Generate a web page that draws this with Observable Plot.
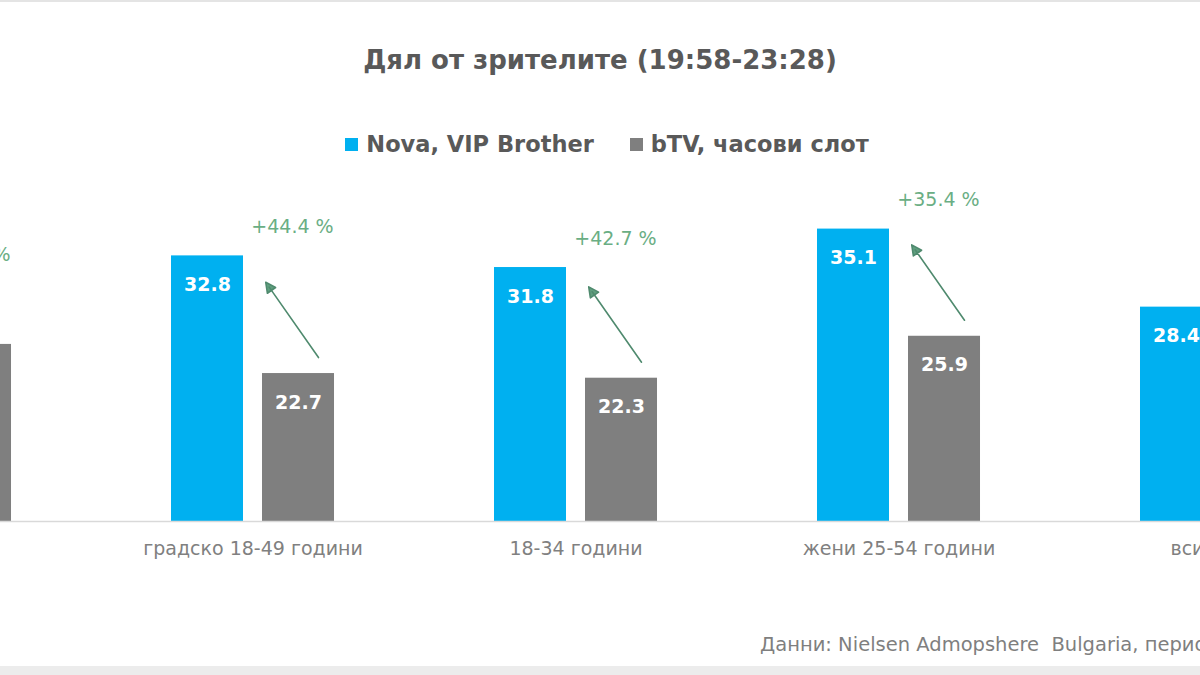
<!DOCTYPE html>
<html>
<head>
<meta charset="utf-8">
<script src="https://cdn.jsdelivr.net/npm/d3@7"></script>
<script src="https://cdn.jsdelivr.net/npm/@observablehq/plot@0.6"></script>
<style>
  html, body { margin: 0; padding: 0; background: #fff; }
  #page { position: relative; width: 1200px; height: 675px; overflow: hidden; background: #fff; font-family: "DejaVu Sans", sans-serif; }
  #topline { position: absolute; left: 0; top: 0; width: 1200px; height: 2px; background: #e4e4e4; }
  #bottomband { position: absolute; left: 0; top: 666px; width: 1200px; height: 9px; background: #ececec; }
  #title { position: absolute; left: 0; width: 1200px; top: 44px; line-height: 32px; text-align: center; font-size: 26px; font-weight: bold; color: #595959; }
  #legend { position: absolute; left: 0; width: 1214px; top: 129px; line-height: 30px; display: flex; justify-content: center; gap: 36px; font-size: 22.5px; font-weight: bold; color: #595959; }
  #legend .item { display: flex; align-items: center; gap: 8px; }
  #legend .sw { width: 13px; height: 13px; display: inline-block; }
  #caption { position: absolute; left: 760px; top: 631px; line-height: 28px; white-space: nowrap; font-size: 19.5px; color: #7f7f7f; }
  #chart { position: absolute; left: -232px; top: 0; width: 1615px; height: 571px; }
  #chart svg { max-width: none !important; }
</style>
</head>
<body>
<div id="page">
  <div id="topline"></div>
  <div id="title">Дял от зрителите (19:58-23:28)</div>
  <div id="legend"></div>
  <div id="chart"></div>
  <div id="caption">Данни: Nielsen Admopshere&nbsp; Bulgaria, период</div>
  <div id="bottomband"></div>
</div>
<script>
// ---- data ----
const categories = ["18-49 години", "градско 18-49 години", "18-34 години", "жени 25-54 години", "всички 4+"];
const seriesNames = ["Nova, VIP Brother", "bTV, часови слот"];
const novaValues = [30.4, 32.8, 31.8, 35.1, 28.4];
const btvValues = [25.2, 22.7, 22.3, 25.9, null];
const changeLabels = ["+20.6 %", "+44.4 %", "+42.7 %", "+35.4 %", null];
const seriesColors = ["#00B0F0", "#7F7F7F"];

// ---- tables ----
const rows = [];
categories.forEach((c, i) => {
  if (novaValues[i] != null) rows.push({category: c, series: seriesNames[0], value: novaValues[i]});
  if (btvValues[i] != null) rows.push({category: c, series: seriesNames[1], value: btvValues[i]});
});
const changes = categories.map((c, i) => ({category: c, nova: novaValues[i], btv: btvValues[i], label: changeLabels[i]}))
  .filter(d => d.label != null && d.btv != null);

// ---- legend ----
const legend = document.getElementById("legend");
seriesNames.forEach((s, i) => {
  const item = document.createElement("span");
  item.className = "item";
  const sw = document.createElement("span");
  sw.className = "sw";
  sw.style.background = seriesColors[i];
  item.appendChild(sw);
  item.appendChild(document.createTextNode(s));
  legend.appendChild(item);
});

// arrow shape with a small filled head
const filledArrow = {
  draw(context, l) {
    const w = 5, h = 10;
    context.moveTo(0, 0);
    context.lineTo(0, -l + h * 0.6);
    context.moveTo(-w, h - l);
    context.lineTo(0, -l);
    context.lineTo(w, h - l);
    context.closePath();
  }
};

// ---- chart ----
const chart = Plot.plot({
  width: 1615,
  height: 571,
  marginLeft: 0,
  marginRight: 0,
  marginTop: 171.5,
  marginBottom: 50,
  style: {fontFamily: "DejaVu Sans, sans-serif", fontSize: "19px", color: "#808080", background: "transparent", maxWidth: "none"},
  fx: {domain: categories, padding: 0, round: false, axis: "bottom", tickSize: 0, tickPadding: 20, label: null},
  x: {domain: seriesNames, paddingInner: 0.2088, paddingOuter: 0.879, round: false, axis: null},
  y: {domain: [10, 40], axis: null},
  color: {domain: seriesNames, range: seriesColors},
  marks: [
    Plot.barY(rows, {fx: "category", x: "series", y1: 10, y2: "value", fill: "series"}),
    Plot.ruleY([10], {stroke: "#d9d9d9", strokeWidth: 1.5}),
    Plot.text(rows, {fx: "category", x: "series", y: "value", text: d => d.value.toFixed(1), dy: 29,
      fill: "white", fontWeight: "bold", fontSize: 19}),
    Plot.vector(changes, {fx: "category", x: () => seriesNames[1], y: "btv", dx: 20, dy: -16,
      anchor: "start", length: 92, rotate: -35, stroke: "#4f8a6e", fill: "#5f9f7e", strokeWidth: 1.6, shape: filledArrow}),
    Plot.text(changes, {fx: "category", x: () => seriesNames[1], y: "nova", text: "label", dy: -29, dx: -6,
      fill: "#6aae84", fontSize: 19})
  ]
});
document.getElementById("chart").appendChild(chart);
</script>
</body>
</html>
